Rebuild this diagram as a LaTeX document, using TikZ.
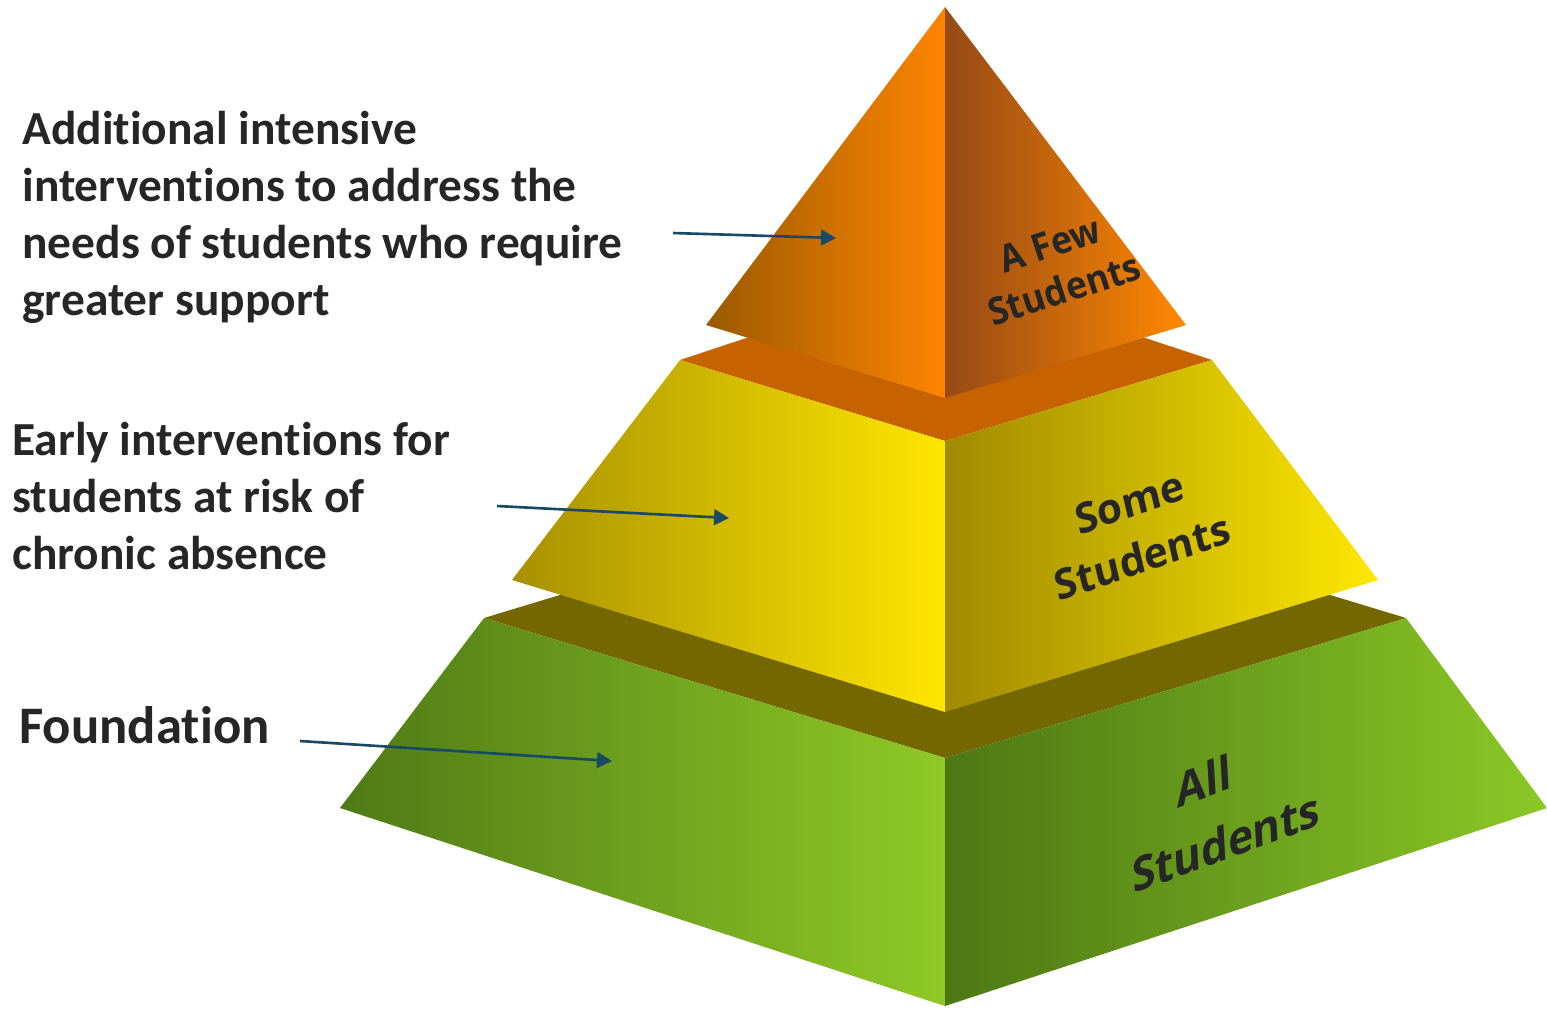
\documentclass[tikz,border=0pt]{standalone}
\usepackage{fontspec}
\setmainfont{Carlito}[Ligatures=NoCommon]
\newfontfamily\tierfont{Open Sans}
\usetikzlibrary{arrows.meta}

\definecolor{ink}{HTML}{262626}
\definecolor{pointerblue}{HTML}{184A66}
\definecolor{orangeband}{HTML}{C66200}
\definecolor{oliveband}{HTML}{756700}

\begin{document}
\begin{tikzpicture}[x=0.02cm, y=-0.02cm,
    note/.style={anchor=north west, inner sep=0pt, align=left, text=ink, font=\bfseries\fontsize{27}{32.4}\selectfont},
    tier/.style={inner sep=0pt, align=center, text=ink},
    pointer/.style={draw=pointerblue, line width=1.5pt, -{Triangle[width=9pt, length=8.5pt]}}
    ]

    \useasboundingbox (0,0) rectangle (1547,1009);

    % Bottom tier: All Students
    \fill[oliveband] (484,618) -- (945,478) -- (1406,618) -- (945,758) -- cycle;
    \shade[left color={rgb,255:red,79;green,122;blue,22}, right color={rgb,255:red,143;green,201;blue,38}]
        (484,618) -- (945,758) -- (945,1006) -- (340,808) -- cycle;
    \shade[left color={rgb,255:red,76;green,120;blue,20}, right color={rgb,255:red,140;green,200;blue,38}]
        (945,758) -- (1406,618) -- (1547,808) -- (945,1006) -- cycle;

    % Middle tier: Some Students
    \fill[orangeband] (680,360) -- (945,272) -- (1212,360) -- (945,441) -- cycle;
    \shade[left color={rgb,255:red,168;green,144;blue,0}, right color={rgb,255:red,255;green,230;blue,0}]
        (680,360) -- (945,441) -- (945,712) -- (512,580) -- cycle;
    \shade[left color={rgb,255:red,160;green,138;blue,0}, right color={rgb,255:red,255;green,232;blue,0}]
        (945,441) -- (1212,360) -- (1378,580) -- (945,712) -- cycle;

    % Top tier: A Few Students
    \shade[left color={rgb,255:red,154;green,90;blue,0}, right color={rgb,255:red,255;green,132;blue,0}]
        (945,7) -- (945,398) -- (706,325) -- cycle;
    \shade[left color={rgb,255:red,150;green,74;blue,22}, right color={rgb,255:red,255;green,136;blue,0}]
        (945,7) -- (1186,325) -- (945,398) -- cycle;

    % Tier labels
    \node (few) [tier, rotate=18, xscale=0.94, font=\tierfont\bfseries\fontsize{21.5}{27}\selectfont] at (1057,267) {A Few\\Students};
    \node (some) [tier, rotate=19, xslant=0.1, font=\tierfont\bfseries\fontsize{23.5}{32}\selectfont] at (1136,530) {Some\\Students};
    \node (all) [tier, rotate=20, xslant=0.3, font=\tierfont\bfseries\fontsize{25.5}{37}\selectfont] at (1224,808) {All\rule{22pt}{0pt}\\Students};

    % Left notes
    \node (intensive) [note] at (22,111) {Additional intensive\\interventions to address the\\needs of students who require\\greater support};
    \node (early) [note] at (12,422) {Early interventions for\\students at risk of\\chronic absence};
    \node (foundation) [note, font=\bfseries\fontsize{30}{34}\selectfont] at (19,706) {Foundation};

    % Pointers
    \coordinate (intensive_from) at (673,233);
    \coordinate (intensive_to) at (836,238);
    \coordinate (early_from) at (497,506);
    \coordinate (early_to) at (729,518);
    \coordinate (foundation_from) at (300,741);
    \coordinate (foundation_to) at (612,761);
    \draw [pointer] (intensive_from) -- (intensive_to);
    \draw [pointer] (early_from) -- (early_to);
    \draw [pointer] (foundation_from) -- (foundation_to);

\end{tikzpicture}
\end{document}
